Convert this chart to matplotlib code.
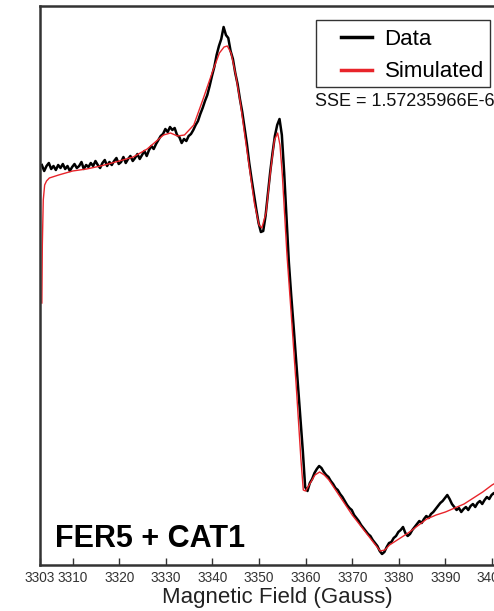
import numpy as np
import matplotlib.pyplot as plt
from matplotlib.patches import Rectangle

plt.rcParams["font.family"] = ["Liberation Sans", "DejaVu Sans"]

# measured EPR spectrum, 0.5 G steps (arbitrary intensity units)
field_start = 3303.4
field_step = 0.5
data_signal = [
    400, 394, 399, 402, 396, 399, 395, 400, 397, 401,
    396, 399, 394, 398, 401, 397, 399, 403, 396, 400,
    398, 402, 399, 404, 400, 397, 402, 405, 399, 403,
    400, 404, 407, 401, 403, 408, 402, 406, 409, 404,
    407, 411, 406, 410, 414, 409, 415, 419, 416, 421,
    425, 429, 431, 436, 433, 438, 435, 437, 430, 428,
    422, 426, 424, 429, 431, 435, 440, 444, 451, 457,
    464, 470, 479, 489, 498, 510, 519, 526, 538, 530,
    527, 514, 506, 492, 481, 466, 453, 437, 421, 402,
    386, 371, 356, 342, 333, 334, 349, 371, 393, 412,
    429, 440, 446, 430, 392, 347, 303, 270, 240, 208,
    177, 146, 114, 78, 74, 82, 86, 92, 96, 99,
    97, 93, 90, 88, 84, 81, 77, 75, 71, 68,
    64, 60, 57, 55, 50, 47, 44, 40, 37, 34,
    31, 29, 25, 22, 19, 14, 11, 13, 18, 22,
    23, 27, 29, 33, 35, 38, 32, 29, 31, 35,
    38, 41, 44, 42, 46, 49, 47, 51, 53, 56,
    59, 62, 64, 67, 70, 66, 61, 58, 55, 57,
    53, 56, 58, 55, 59, 61, 58, 62, 64, 61,
    65, 68, 66, 70, 72, 69, 73, 75, 74, 76,
    77,
]

# simulated spectrum
sim_field = [
    3303.4, 3303.5, 3303.7, 3304.0, 3304.4, 3305, 3307, 3310, 3313, 3316,
    3320, 3323, 3326, 3328, 3329.5, 3331, 3332.5, 3334, 3336, 3338,
    3340, 3341.5, 3342.5, 3343.2, 3344, 3345, 3346, 3347, 3348, 3349,
    3350, 3350.6, 3351.5, 3352.5, 3353.3, 3354, 3354.5, 3355, 3356, 3357,
    3358, 3359, 3359.5, 3360, 3361, 3362, 3363, 3364, 3365, 3366,
    3368, 3370, 3372, 3374, 3376, 3377, 3378, 3380, 3382, 3384,
    3386, 3388, 3390, 3392, 3394, 3396, 3398, 3400, 3403,
]
sim_signal = [
    262, 320, 365, 380, 384, 387, 390, 394, 396, 399,
    404, 408, 416, 424, 430, 432, 429, 430, 440, 466,
    493, 512, 518, 519, 512, 490, 462, 428, 395, 362,
    340, 337, 352, 395, 425, 432, 420, 390, 310, 245,
    178, 105, 75, 74, 82, 90, 93, 90, 85, 78,
    64, 50, 38, 26, 14, 15, 20, 26, 32, 39,
    46, 50, 53, 57, 61, 67, 73, 80, 88,
]

tick_values = [3303, 3310, 3320, 3330, 3340, 3350, 3360, 3370, 3380, 3390, 3400]

data_field = field_start + field_step * np.arange(len(data_signal))

W, H = 494, 611
fig = plt.figure(figsize=(W / 100, H / 100), dpi=100)
ax = fig.add_axes([40 / W, 1 - 565 / H, 102 * 4.66 / W, 559 / H])

ax.plot(data_field, data_signal, color="black", lw=1.8, label="Data")
ax.plot(sim_field, sim_signal, color="#e8242a", lw=1.0, label="Simulated")

ax.set_xlim(3303, 3405)
ax.set_ylim(0, 559)
ax.set_yticks([])
ax.set_xticks(tick_values)
ax.tick_params(axis="x", direction="in", length=5, width=1, labelsize=9.8,
               pad=4, colors="#333333")
for s in ax.spines.values():
    s.set_linewidth(1.8)
    s.set_color("#333333")

ax.set_xlabel("Magnetic Field (Gauss)", fontsize=16, labelpad=2, color="#222222")

leg = ax.legend(loc="upper right", bbox_to_anchor=(486 / W, 1 - 27 / H),
                bbox_transform=fig.transFigure, fontsize=16, frameon=False,
                handlelength=1.4, handletextpad=0.55,
                borderpad=0.1, labelspacing=0.5, borderaxespad=0)
for line in leg.get_lines():
    line.set_linewidth(2.5)
fig.patches.append(Rectangle((316 / W, 1 - 87 / H), 174 / W, 67 / H,
                             transform=fig.transFigure, fill=False,
                             edgecolor="#333333", lw=1.0))

fig.text(315 / W, 1 - 102 / H, "SSE = 1.57235966E-6", fontsize=13,
         va="center", ha="left", color="#111111")
fig.text(55 / W, 1 - 539 / H, "FER5 + CAT1",
         fontsize=22, fontweight="bold", va="center", ha="left")

fig.savefig("out.png", dpi=100)
